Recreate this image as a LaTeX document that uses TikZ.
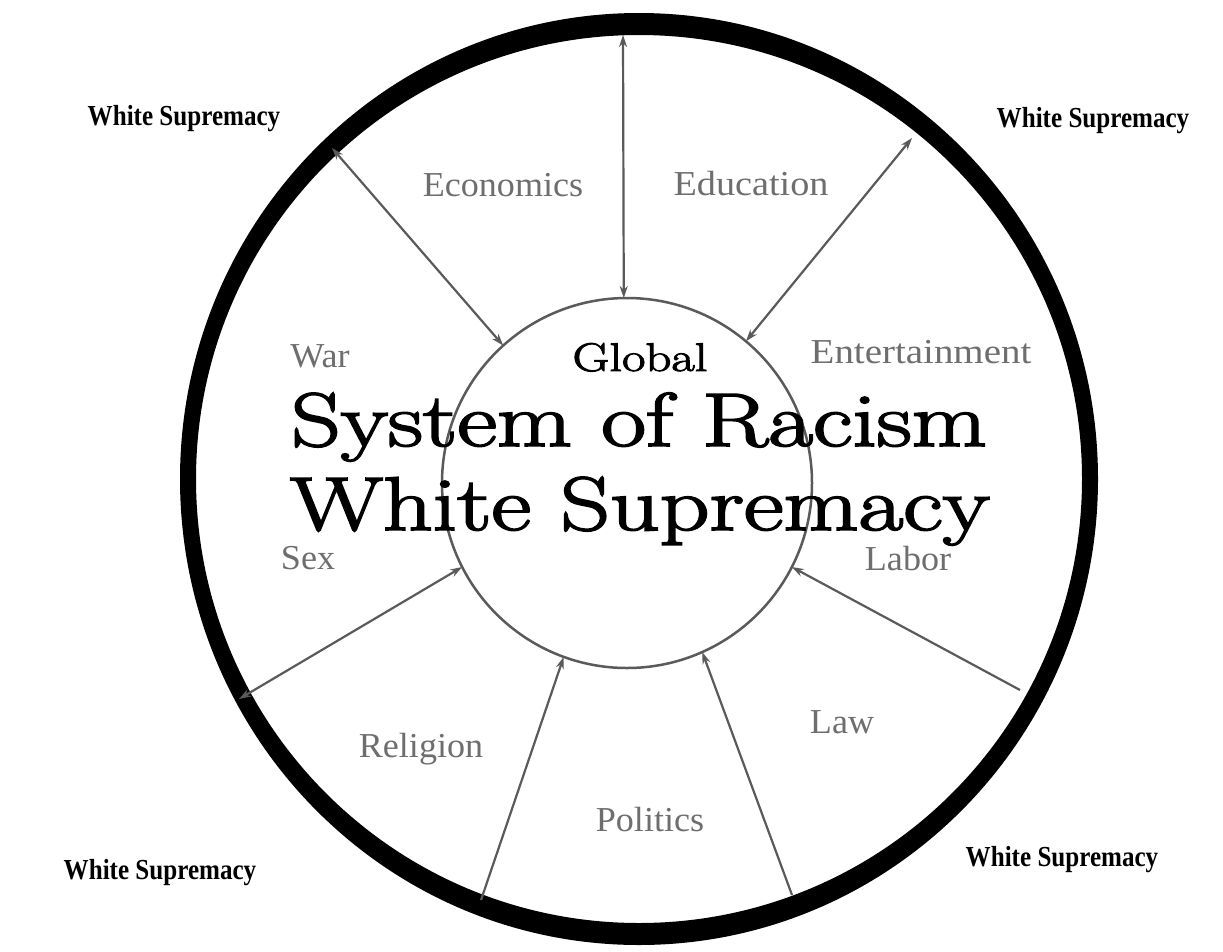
\documentclass[tikz,border=0pt]{standalone}
\usepackage{fontspec}
\setmainfont{Liberation Serif}
\newfontfamily\cmfont{Latin Modern Roman}[FakeBold=2.2]
\usetikzlibrary{arrows.meta,shapes.geometric}
\definecolor{labgray}{HTML}{6E6E6E}
\definecolor{arrgray}{HTML}{5A5A5A}
\begin{document}
\begin{tikzpicture}[x=1pt,y=-1pt,
  corner/.style={font=\fontsize{29}{29}\selectfont\bfseries, anchor=base, inner sep=0pt, xscale=0.865},
  catlabel/.style={font=\fontsize{35}{35}\selectfont, text=labgray, anchor=base, inner sep=0pt, xscale=1.03},
  spoke/.style={draw=arrgray, line width=2.2pt},
  both/.style={spoke, {Stealth[length=12pt,width=8pt]}-{Stealth[length=12pt,width=8pt]}},
  single/.style={spoke, -{Stealth[length=12pt,width=8pt]}},
  title/.style={font=\cmfont\fontsize{76}{76}\selectfont, anchor=base, inner sep=0pt, xscale=1.28}]
\useasboundingbox (0,0) rectangle (1223,951);
\fill[white] (0,0) rectangle (1223,951);
% outer ring (thicker at top and bottom)
\fill[black, even odd rule] (639,479) ellipse [x radius=459, y radius=466]
                            (639,479) ellipse [x radius=443, y radius=444];
% points where the spokes meet the ring
\coordinate (o1) at (332,148);
\coordinate (o2) at (623,35);
\coordinate (o3) at (912,138);
\coordinate (o4) at (239,699);
\coordinate (o5) at (1020,690);
\coordinate (o6) at (481,900);
\coordinate (o7) at (792,895);
% inner circle
\node[circle, draw=arrgray, line width=2.5pt, minimum size=370pt, inner sep=0pt, outer sep=0pt] (inner) at (627,483) {};
% spokes
\draw[both] (o1) -- (inner.132);
\draw[both] (o2) -- (inner.91);
\draw[both] (o3) -- (inner.50.6);
\draw[both] (o4) -- (inner.207.8);
\draw[single] (o5) -- (inner.333.8);
\draw[single] (o6) -- (inner.250.3);
\draw[single] (o7) -- (inner.294.7);
% corner labels
\node[corner] (wstl) at (184,125) {White Supremacy};
\node[corner] (wstr) at (1093,127) {White Supremacy};
\node[corner] (wsbl) at (160,879) {White Supremacy};
\node[corner] (wsbr) at (1062,866) {White Supremacy};
% category labels
\node[catlabel] (econ) at (503,196) {Economics};
\node[catlabel, xscale=1.06] (educ) at (751,195) {Education};
\node[catlabel, xscale=1.08] (ent) at (921,363) {Entertainment};
\node[catlabel] (war) at (320,367) {War};
\node[catlabel] (sex) at (308,569) {Sex};
\node[catlabel] (labor) at (908,570) {Labor};
\node[catlabel] (rel) at (421,757) {Religion};
\node[catlabel] (law) at (842,733) {Law};
\node[catlabel] (pol) at (650,831) {Politics};
% central text
\node[font=\cmfont\fontsize{40}{40}\selectfont, anchor=base, inner sep=0pt, xscale=1.27] (global) at (640,371) {Global};
\node[title] (sys) at (639,446) {System of Racism};
\node[title] (wsc) at (640,530) {White Supremacy};
\end{tikzpicture}
\end{document}
